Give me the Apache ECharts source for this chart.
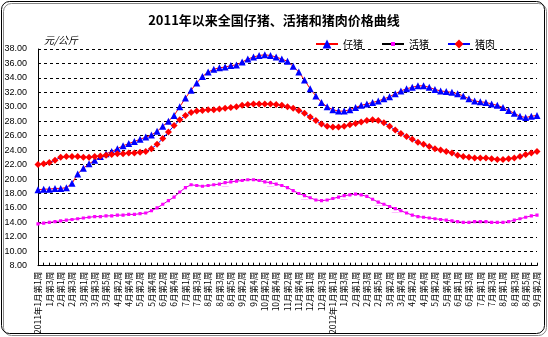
<!DOCTYPE html>
<html>
<head>
<meta charset="utf-8">
<script src="https://cdn.jsdelivr.net/npm/echarts@6/dist/echarts.min.js"></script>
<style>
  html, body { margin: 0; padding: 0; background: #fff; }
  #chart { width: 548px; height: 337px; }
</style>
</head>
<body>
<div id="chart"></div>
<script>
// Weekly categories, 2011 week 1 through 2012 September week 2
const weeks = [
  '2011年1月第1周','1月第2周','1月第3周','1月第4周',
  '2月第1周','2月第2周','2月第3周','2月第4周',
  '3月第1周','3月第2周','3月第3周','3月第4周','3月第5周',
  '4月第1周','4月第2周','4月第3周','4月第4周',
  '5月第1周','5月第2周','5月第3周','5月第4周',
  '6月第1周','6月第2周','6月第3周','6月第4周','6月第5周',
  '7月第1周','7月第2周','7月第3周','7月第4周',
  '8月第1周','8月第2周','8月第3周','8月第4周','8月第5周',
  '9月第1周','9月第2周','9月第3周','9月第4周',
  '10月第1周','10月第2周','10月第3周','10月第4周',
  '11月第1周','11月第2周','11月第3周','11月第4周','11月第5周',
  '12月第1周','12月第2周','12月第3周','12月第4周',
  '2012年1月第1周','1月第2周','1月第3周','1月第4周',
  '2月第1周','2月第2周','2月第3周','2月第4周','2月第5周',
  '3月第1周','3月第2周','3月第3周','3月第4周',
  '4月第1周','4月第2周','4月第3周','4月第4周',
  '5月第1周','5月第2周','5月第3周','5月第4周','5月第5周',
  '6月第1周','6月第2周','6月第3周','6月第4周',
  '7月第1周','7月第2周','7月第3周','7月第4周',
  '8月第1周','8月第2周','8月第3周','8月第4周','8月第5周',
  '9月第1周','9月第2周'
];

// 仔猪 (piglet), 元/公斤
const piglet = [
  18.5,18.6,18.6,18.7,18.7,18.8,19.4,20.7,21.5,22.1,22.6,23.1,23.5,23.8,24.2,24.6,24.9,
  25.2,25.5,25.8,26.1,26.6,27.3,28.0,28.8,30.0,31.2,32.3,33.3,34.2,34.8,35.2,35.4,35.5,
  35.7,35.8,36.2,36.6,36.9,37.1,37.2,37.1,36.9,36.6,36.3,35.6,34.8,33.7,32.5,31.5,30.6,
  30.0,29.6,29.4,29.4,29.6,29.9,30.2,30.4,30.6,30.8,31.1,31.4,31.8,32.2,32.5,32.7,32.9,
  32.9,32.7,32.4,32.2,32.1,32.0,31.8,31.5,31.1,30.8,30.7,30.6,30.4,30.2,29.9,29.5,29.1,
  28.7,28.5,28.7,28.8
];

// 活猪 (live hog), 元/公斤
const liveHog = [
  13.8,13.9,14.0,14.1,14.2,14.3,14.4,14.5,14.6,14.7,14.8,14.8,14.9,14.9,15.0,15.0,15.1,
  15.1,15.2,15.3,15.6,16.0,16.5,17.0,17.5,18.2,18.8,19.2,19.1,19.0,19.1,19.2,19.3,19.5,
  19.6,19.7,19.8,19.9,19.9,19.8,19.6,19.5,19.3,19.1,18.8,18.4,18.0,17.7,17.4,17.1,17.0,
  17.1,17.3,17.5,17.7,17.8,17.9,17.8,17.6,17.2,16.8,16.5,16.2,15.9,15.6,15.3,15.0,14.8,
  14.7,14.6,14.5,14.4,14.3,14.2,14.1,14.0,14.0,14.1,14.1,14.1,14.0,14.0,14.0,14.1,14.3,
  14.5,14.7,14.9,15.0
];

// 猪肉 (pork), 元/公斤
const pork = [
  22.0,22.1,22.3,22.6,23.0,23.1,23.1,23.1,23.0,23.0,23.1,23.2,23.3,23.4,23.5,23.5,23.6,
  23.6,23.7,23.8,24.2,24.8,25.6,26.5,27.4,28.2,28.8,29.2,29.4,29.5,29.6,29.6,29.7,29.8,
  29.9,30.0,30.2,30.3,30.4,30.4,30.4,30.4,30.3,30.2,30.0,29.8,29.5,29.1,28.6,28.1,27.6,
  27.3,27.2,27.2,27.3,27.5,27.7,27.9,28.1,28.2,28.1,27.8,27.3,26.8,26.3,25.9,25.5,25.1,
  24.8,24.5,24.2,24.0,23.8,23.6,23.3,23.1,23.0,22.9,22.9,22.9,22.8,22.7,22.7,22.8,22.9,
  23.1,23.4,23.6,23.8
];

const seriesNames = ['仔猪', '活猪', '猪肉'];

// small centred square inside a larger empty box, so the marker stays small in the legend too
const smallSquare = 'path://M0,0L10,0L10,0.01L0,0.01Z M0,9.99L10,9.99L10,10L0,10Z M2.75,2.75L7.25,2.75L7.25,7.25L2.75,7.25Z';

const chart = echarts.init(document.getElementById('chart'), null, { renderer: 'canvas' });
const fontCN = '"Noto Sans CJK SC", "Liberation Sans", sans-serif';

chart.setOption({
  animation: false,
  backgroundColor: '#ffffff',
  title: {
    text: '2011年以来全国仔猪、活猪和猪肉价格曲线',
    left: 'center',
    top: 9,
    textStyle: { fontFamily: fontCN, fontSize: 13, fontWeight: 'bold', color: '#000' }
  },
  legend: {
    data: [
      { name: seriesNames[0], lineStyle: { color: '#ff0000' } },
      { name: seriesNames[1], lineStyle: { color: '#000000' } },
      { name: seriesNames[2], lineStyle: { color: '#0000ff' } }
    ],
    top: 34,
    right: 48,
    itemGap: 18,
    itemWidth: 22,
    itemHeight: 11,
    textStyle: { fontFamily: fontCN, fontSize: 10, color: '#000' }
  },
  grid: { left: 38, right: 11, top: 49, bottom: 71, show: false },
  graphic: [
    {
      // rounded outer frame
      type: 'rect', z: -1, silent: true,
      shape: { x: 1.5, y: 1.5, width: 543, height: 332, r: 8 },
      style: { fill: 'none', stroke: '#000', lineWidth: 1, shadowBlur: 0, shadowOffsetX: 2, shadowOffsetY: 2, shadowColor: '#888' }
    }
  ],
  xAxis: {
    type: 'category',
    data: weeks,
    boundaryGap: false,
    axisLine: { lineStyle: { color: '#000', width: 1 } },
    axisTick: { inside: true, length: 3, interval: 0, lineStyle: { color: '#000' } },
    axisLabel: {
      interval: 1,
      rotate: 90,
      margin: 6,
      fontFamily: fontCN,
      fontSize: 8.5,
      color: '#000'
    },
    splitLine: { show: false }
  },
  yAxis: {
    type: 'value',
    min: 8,
    max: 38,
    interval: 2,
    name: '元/公斤',
    nameLocation: 'end',
    nameGap: 4,
    nameTextStyle: { fontFamily: fontCN, fontSize: 10, fontStyle: 'italic', color: '#000', align: 'left', padding: [0, 0, 0, 6] },
    axisLine: { show: true, lineStyle: { color: '#000', width: 1 } },
    axisTick: { show: false },
    axisLabel: {
      margin: 11,
      fontFamily: '"Liberation Sans", sans-serif',
      fontSize: 9,
      color: '#000',
      formatter: v => v.toFixed(2)
    },
    splitLine: { show: true, lineStyle: { color: '#000', type: [3, 3], width: 1 } }
  },
  series: [
    {
      name: '仔猪', type: 'line', data: piglet,
      symbol: 'triangle', symbolSize: 7, showAllSymbol: true,
      lineStyle: { color: '#ff0000', width: 1 },
      itemStyle: { color: '#0000ff' }
    },
    {
      name: '活猪', type: 'line', data: liveHog,
      symbol: smallSquare, symbolSize: 7, showAllSymbol: true,
      lineStyle: { color: '#cc00cc', width: 1 },
      itemStyle: { color: '#ff00ff' }
    },
    {
      name: '猪肉', type: 'line', data: pork,
      symbol: 'diamond', symbolSize: 7, showAllSymbol: true,
      lineStyle: { color: '#0000ff', width: 1 },
      itemStyle: { color: '#ff0000' }
    }
  ]
});
</script>
</body>
</html>
